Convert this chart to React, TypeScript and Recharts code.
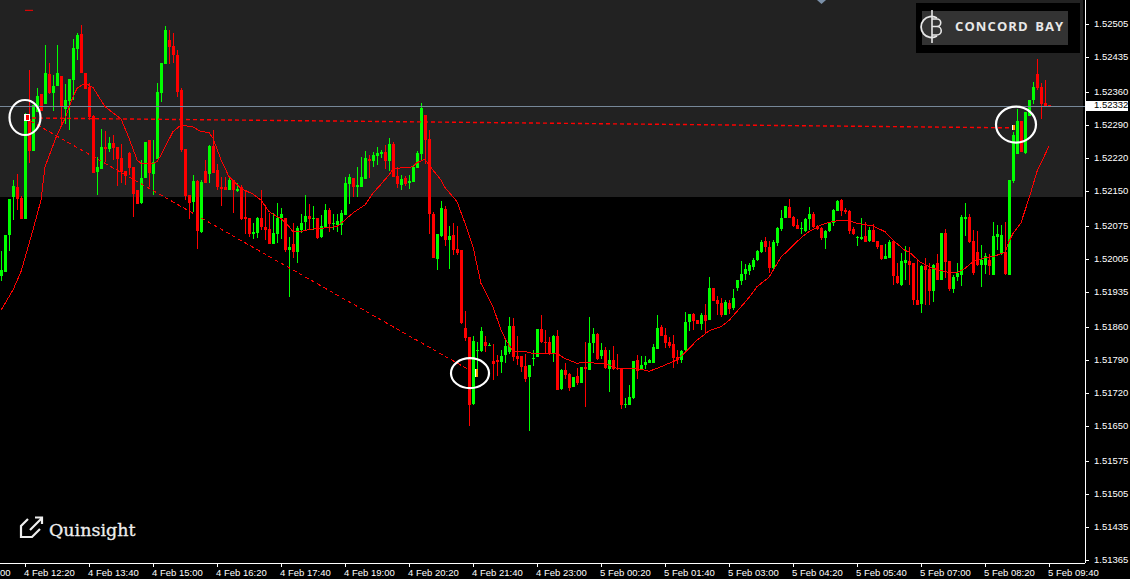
import React from 'react';
import { ComposedChart, Bar, Line, XAxis, YAxis, ReferenceArea, ReferenceLine, ReferenceDot } from 'recharts';

// all series are in points above 1.50000 (2332 = 1.52332), one line = 10 bars
const opens = [
  1969, 1978, 2055, 2136, 2158, 2135, 2091, 2302, 2235, 2318,
  2356, 2335, 2399, 2358, 2372, 2394, 2323, 2342, 2386, 2452,
  2484, 2401, 2370, 2309, 2190, 2196, 2243, 2239, 2252, 2243,
  2220, 2192, 2230, 2201, 2152, 2123, 2177, 2258, 2186, 2218,
  2358, 2420, 2471, 2458, 2439, 2364, 2239, 2141, 2126, 2171,
  2062, 2192, 2186, 2245, 2194, 2158, 2158, 2152, 2173, 2150,
  2158, 2094, 2092, 2058, 2060, 2092, 2073, 2069, 2037, 2058,
  2092, 2092, 2024, 2037, 2020, 2067, 2084, 2096, 2090, 2092,
  2052, 2071, 2109, 2079, 2077, 2077, 2098, 2164, 2177, 2158,
  2158, 2175, 2218, 2213, 2224, 2228, 2233, 2213, 2250, 2181,
  2162, 2177, 2167, 2169, 2198, 2228, 2311, 2260, 2101, 2005,
  2054, 2111, 2045, 2056, 2026, 2024, 1858, 1839, 1696, 1809,
  1809, 1828, 1820, 1788, 1790, 1786, 1801, 1807, 1862, 1798,
  1798, 1777, 1754, 1792, 1796, 1856, 1828, 1828, 1803, 1841,
  1728, 1769, 1760, 1732, 1756, 1741, 1775, 1769, 1826, 1845,
  1798, 1811, 1771, 1790, 1773, 1773, 1694, 1694, 1709, 1790,
  1769, 1779, 1784, 1784, 1813, 1860, 1843, 1828, 1824, 1796,
  1790, 1811, 1871, 1888, 1875, 1867, 1886, 1875, 1943, 1918,
  1911, 1886, 1911, 1901, 1943, 1958, 1973, 1979, 1988, 2003,
  2020, 2043, 2030, 1986, 2039, 2069, 2092, 2116, 2094, 2077,
  2069, 2064, 2090, 2101, 2075, 2071, 2050, 2064, 2081, 2107,
  2130, 2109, 2107, 2069, 2050, 2047, 2054, 2043, 2067, 2043,
  2035, 2005, 2007, 2043, 1969, 1949, 1996, 2001, 1996, 1918,
  1909, 1990, 1984, 1937, 1996, 1960, 2060, 2001, 1941, 1966,
  1971, 2090, 2094, 2043, 2020, 1992, 1992, 2003, 1971, 2052,
  2017, 2020, 1971, 2171, 2228, 2298, 2230, 2309, 2343, 2399,
  2370, 2336, 2332,
];
const closes = [
  1981, 2056, 2133, 2160, 2132, 2091, 2299, 2235, 2332, 2352,
  2320, 2401, 2359, 2373, 2401, 2328, 2343, 2388, 2454, 2482,
  2401, 2367, 2307, 2188, 2201, 2243, 2239, 2252, 2242, 2218,
  2190, 2181, 2199, 2144, 2122, 2177, 2254, 2188, 2211, 2360,
  2422, 2492, 2456, 2439, 2360, 2237, 2139, 2124, 2171, 2064,
  2169, 2167, 2245, 2188, 2158, 2154, 2152, 2173, 2152, 2154,
  2090, 2090, 2058, 2062, 2092, 2073, 2067, 2037, 2060, 2092,
  2101, 2024, 2030, 2020, 2071, 2081, 2096, 2090, 2092, 2050,
  2075, 2109, 2079, 2081, 2086, 2103, 2167, 2179, 2158, 2162,
  2179, 2220, 2213, 2226, 2230, 2233, 2213, 2250, 2179, 2164,
  2175, 2164, 2171, 2201, 2230, 2326, 2258, 2101, 2007, 2058,
  2113, 2045, 2054, 2024, 2018, 1869, 1837, 1694, 1830, 1811,
  1852, 1820, 1822, 1781, 1786, 1798, 1820, 1862, 1796, 1792,
  1775, 1750, 1779, 1794, 1856, 1828, 1826, 1803, 1841, 1726,
  1769, 1758, 1730, 1754, 1741, 1775, 1771, 1826, 1845, 1792,
  1811, 1773, 1790, 1771, 1771, 1694, 1696, 1711, 1788, 1767,
  1779, 1786, 1790, 1818, 1858, 1841, 1826, 1820, 1794, 1790,
  1809, 1871, 1888, 1873, 1867, 1886, 1873, 1943, 1915, 1909,
  1886, 1913, 1898, 1922, 1960, 1973, 1984, 1992, 2003, 2022,
  2041, 2030, 1986, 2041, 2071, 2092, 2118, 2092, 2075, 2069,
  2071, 2090, 2101, 2073, 2069, 2050, 2064, 2084, 2109, 2128,
  2107, 2105, 2064, 2058, 2052, 2052, 2041, 2067, 2041, 2030,
  2005, 2011, 2041, 1969, 1954, 2001, 2003, 1992, 1918, 1907,
  1990, 1981, 1937, 1992, 1960, 2060, 1998, 1941, 1966, 1975,
  2094, 2094, 2041, 1975, 1992, 2003, 2011, 1990, 2054, 2058,
  2056, 1973, 2173, 2269, 2298, 2233, 2318, 2343, 2370, 2369,
  2335, 2330, 2330,
];
const highs = [
  2022, 2056, 2133, 2173, 2186, 2138, 2315, 2408, 2332, 2368,
  2356, 2460, 2423, 2396, 2460, 2394, 2377, 2388, 2474, 2485,
  2503, 2401, 2379, 2311, 2221, 2281, 2277, 2265, 2269, 2243,
  2250, 2192, 2233, 2201, 2152, 2216, 2254, 2258, 2258, 2380,
  2422, 2501, 2492, 2485, 2450, 2368, 2239, 2141, 2184, 2173,
  2174, 2216, 2247, 2279, 2208, 2180, 2180, 2180, 2173, 2166,
  2162, 2152, 2092, 2081, 2095, 2152, 2120, 2102, 2102, 2123,
  2113, 2092, 2052, 2081, 2075, 2101, 2141, 2122, 2118, 2092,
  2098, 2122, 2113, 2101, 2101, 2109, 2179, 2186, 2177, 2201,
  2222, 2235, 2226, 2232, 2243, 2237, 2247, 2262, 2254, 2200,
  2184, 2181, 2184, 2205, 2235, 2337, 2311, 2279, 2105, 2058,
  2128, 2118, 2075, 2081, 2075, 2024, 1894, 1839, 1841, 1828,
  1860, 1841, 1826, 1824, 1801, 1811, 1837, 1881, 1879, 1841,
  1798, 1803, 1779, 1811, 1856, 1886, 1854, 1839, 1843, 1854,
  1771, 1783, 1762, 1754, 1773, 1775, 1828, 1881, 1858, 1847,
  1826, 1818, 1811, 1820, 1803, 1773, 1709, 1737, 1788, 1801,
  1798, 1798, 1792, 1824, 1886, 1864, 1858, 1839, 1843, 1811,
  1811, 1892, 1888, 1890, 1875, 1890, 1909, 1967, 1943, 1926,
  1922, 1918, 1918, 1941, 1960, 2001, 1994, 1996, 2007, 2024,
  2045, 2052, 2043, 2045, 2073, 2109, 2118, 2133, 2096, 2090,
  2084, 2092, 2116, 2105, 2077, 2073, 2067, 2084, 2111, 2130,
  2133, 2113, 2109, 2073, 2054, 2092, 2084, 2073, 2079, 2043,
  2035, 2037, 2045, 2045, 1996, 2018, 2032, 2030, 1996, 2003,
  1992, 2007, 1996, 1994, 2015, 2060, 2069, 2001, 1971, 1996,
  2098, 2124, 2101, 2067, 2064, 2035, 2017, 2015, 2084, 2077,
  2077, 2084, 2173, 2276, 2324, 2298, 2318, 2343, 2382, 2430,
  2379, 2386, 2332,
];
const lows = [
  1959, 1978, 2023, 2088, 2109, 2091, 2091, 2210, 2235, 2318,
  2320, 2335, 2357, 2320, 2372, 2292, 2292, 2280, 2345, 2428,
  2401, 2367, 2301, 2188, 2140, 2196, 2212, 2233, 2216, 2159,
  2166, 2162, 2184, 2095, 2122, 2123, 2177, 2159, 2141, 2218,
  2339, 2420, 2420, 2421, 2350, 2231, 2130, 2090, 2106, 2027,
  2062, 2167, 2167, 2188, 2152, 2118, 2152, 2152, 2102, 2146,
  2088, 2059, 2051, 2047, 2051, 2067, 2045, 2037, 2035, 2038,
  2047, 2020, 1925, 2007, 1996, 2060, 2064, 2067, 2067, 2047,
  2050, 2071, 2062, 2067, 2062, 2056, 2098, 2122, 2137, 2137,
  2158, 2175, 2177, 2201, 2205, 2220, 2196, 2192, 2179, 2156,
  2152, 2160, 2154, 2169, 2198, 2213, 2207, 2058, 2007, 1981,
  2052, 2032, 1984, 2013, 2013, 1866, 1830, 1650, 1694, 1769,
  1807, 1807, 1820, 1747, 1756, 1762, 1784, 1803, 1788, 1779,
  1764, 1743, 1639, 1777, 1796, 1826, 1804, 1801, 1786, 1726,
  1726, 1749, 1724, 1732, 1737, 1741, 1690, 1769, 1805, 1790,
  1792, 1771, 1722, 1769, 1769, 1686, 1688, 1694, 1707, 1749,
  1769, 1771, 1784, 1784, 1813, 1841, 1815, 1815, 1773, 1781,
  1784, 1809, 1852, 1854, 1867, 1854, 1847, 1875, 1915, 1886,
  1881, 1886, 1888, 1896, 1937, 1950, 1960, 1971, 1981, 2001,
  2018, 2020, 1975, 1981, 2033, 2064, 2092, 2092, 2073, 2069,
  2058, 2062, 2067, 2071, 2067, 2045, 2026, 2062, 2075, 2107,
  2096, 2101, 2058, 2056, 2032, 2045, 2041, 2041, 2041, 2026,
  2003, 2005, 2007, 1950, 1952, 1947, 1960, 1950, 1907, 1907,
  1890, 1907, 1907, 1913, 1960, 1960, 1964, 1937, 1932, 1958,
  1947, 2054, 2039, 1971, 1990, 1946, 1973, 1970, 1971, 2024,
  2013, 1971, 1971, 2167, 2228, 2233, 2228, 2308, 2335, 2363,
  2303, 2330, 2330,
];

// moving average, read at the bars listed in maBars
const maBars = [
  0, 3, 5, 8, 10, 11, 14, 16, 18, 19, 21, 23, 26, 30, 32, 34, 35, 38, 39, 40,
  43, 45, 48, 50, 52, 53, 55, 57, 60, 63, 65, 67, 69, 70, 72, 73, 75, 77, 80, 84,
  86, 88, 91, 93, 95, 97, 98, 100, 103, 104, 106, 108, 110, 111, 114, 116, 118, 120, 123, 125,
  126, 128, 131, 133, 139, 141, 144, 146, 149, 151, 154, 158, 160, 162, 164, 167, 169, 171, 174, 177,
  180, 182, 185, 187, 189, 192, 195, 197, 200, 202, 205, 207, 209, 212, 214, 218, 221, 223, 226, 227,
  230, 233, 237, 239, 241, 243, 246, 248, 251, 252, 253, 255, 257, 259, 262,
];
const maValues = [
  1896, 1939, 1978, 2067, 2130, 2201, 2269, 2304, 2350, 2368, 2379, 2370, 2329, 2303, 2262, 2216, 2208, 2208, 2212, 2226,
  2276, 2290, 2286, 2276, 2274, 2262, 2216, 2180, 2155, 2143, 2130, 2106, 2095, 2091, 2074, 2063, 2063, 2068, 2070, 2074,
  2088, 2103, 2120, 2145, 2164, 2184, 2196, 2199, 2201, 2210, 2217, 2194, 2173, 2157, 2127, 2081, 2031, 1953, 1903, 1854,
  1836, 1808, 1808, 1804, 1804, 1793, 1783, 1785, 1783, 1783, 1772, 1772, 1770, 1766, 1772, 1783, 1790, 1806, 1832, 1852,
  1861, 1874, 1903, 1923, 1946, 1966, 2009, 2025, 2050, 2063, 2077, 2083, 2086, 2086, 2081, 2075, 2063, 2045, 2023, 2020,
  1997, 1985, 1976, 1976, 1985, 1999, 2008, 2010, 2019, 2042, 2059, 2082, 2134, 2191, 2245,
];

// the two dashed trend lines
const fallBars = [6, 117];
const fallValues = [2305, 1769];
const flatBars = [6, 253];
const flatValues = [2305, 2284];

const yTicks = [2505, 2435, 2360, 2332, 2290, 2220, 2150, 2075, 2005, 1935, 1860, 1790, 1720, 1650, 1575, 1505, 1435, 1365];
const bidPrice = 2332;
const sessionTop = 2137;

const xTickBars = [0, 6, 22, 38, 54, 70, 86, 102, 118, 134, 150, 166, 182, 198, 214, 230, 246, 262];
const xTickLabels = [
  '00', '4 Feb 12:20', '4 Feb 13:40', '4 Feb 15:00', '4 Feb 16:20', '4 Feb 17:40', '4 Feb 19:00', '4 Feb 20:20', '4 Feb 21:40',
  '4 Feb 23:00', '5 Feb 00:20', '5 Feb 01:40', '5 Feb 03:00', '5 Feb 04:20', '5 Feb 05:40', '5 Feb 07:00', '5 Feb 08:20', '5 Feb 09:40',
];

const price = (p: number) => 1.5 + p / 100000;

const SLOTS = 271;
const rows = Array.from({ length: SLOTS }, (_, bar) => {
  const row: any = { bar };
  if (bar < opens.length) {
    row.open = price(opens[bar]);
    row.close = price(closes[bar]);
    row.high = price(highs[bar]);
    row.low = price(lows[bar]);
  }
  return row;
});
maBars.forEach((b, i) => { rows[b].ma = price(maValues[i]); });
fallBars.forEach((b, i) => { rows[b].fall = price(fallValues[i]); });
flatBars.forEach((b, i) => { rows[b].flat = price(flatValues[i]); });

const font = '"Liberation Sans", sans-serif';

function Candle(props: any) {
  const { x, y, width, height, payload } = props;
  if (payload.open === undefined) return null;
  const top = Math.min(y, y + height);
  const h = Math.abs(height);
  const range = payload.high - payload.low || 1;
  const up = payload.close >= payload.open;
  const color = up ? '#00ff00' : '#ff0000';
  const bodyTop = top + ((payload.high - Math.max(payload.open, payload.close)) / range) * h;
  const bodyBot = top + ((payload.high - Math.min(payload.open, payload.close)) / range) * h;
  const cx = Math.round(x + width / 2);
  const by = Math.round(bodyTop);
  return (
    <g shapeRendering="crispEdges">
      <rect x={cx} y={Math.round(top)} width={1} height={Math.max(1, Math.round(h))} fill={color} />
      <rect x={cx - 1} y={by} width={3} height={Math.max(1, Math.round(bodyBot) - by)} fill={color} />
    </g>
  );
}

function PriceTick(props: any) {
  const { x, y, payload } = props;
  const v = Number(payload.value);
  const isBid = Math.abs(v - price(bidPrice)) < 0.000001;
  const row = Math.round(y);
  return (
    <g shapeRendering="crispEdges">
      {isBid ? (
        <rect x={x + 1} y={row - 4} width={42} height={10} fill="#ffffff" />
      ) : (
        <line x1={x} x2={x + 4} y1={row + 0.5} y2={row + 0.5} stroke="#ffffff" />
      )}
      <text x={x + 9} y={row + 3} fontSize={9.5} fontFamily={font} fill={isBid ? '#000000' : '#ffffff'}>
        {v.toFixed(5)}
      </text>
    </g>
  );
}

function TimeTick(props: any) {
  const { x, y, payload } = props;
  const label = xTickLabels[xTickBars.indexOf(payload.value)];
  if (label === '00') {
    return <text x={1} y={y + 13} fontSize={9.5} fontFamily={font} fill="#ffffff">{label}</text>;
  }
  return (
    <g>
      <line x1={x + 0.5} x2={x + 0.5} y1={y} y2={y + 4} stroke="#ffffff" shapeRendering="crispEdges" />
      <text x={x - 1} y={y + 13} fontSize={9.5} fontFamily={font} fill="#ffffff">{label}</text>
    </g>
  );
}

const BidLine = (p: any) => (
  <line x1={p.x1} x2={p.x2} y1={Math.floor(p.y1) + 1.5} y2={Math.floor(p.y1) + 1.5} stroke="#778899" shapeRendering="crispEdges" />
);

const ring = (rx: number, ry: number, dx: number) => (p: any) => (
  <ellipse cx={p.cx + dx} cy={p.cy} rx={rx} ry={ry} fill="none" stroke="#ffffff" strokeWidth={2.2} />
);

const entryMark = (p: any) => (
  <g shapeRendering="crispEdges">
    <rect x={p.cx - 1} y={p.cy - 3} width={6} height={7} fill="#ffffff" />
    <rect x={p.cx + 1} y={p.cy - 2} width={3} height={5} fill="#ff0000" />
  </g>
);

const fillMark = (dx: number, tall: number) => (p: any) => (
  <g shapeRendering="crispEdges">
    <rect x={p.cx + dx} y={p.cy - tall / 2} width={1} height={tall} fill="#ffffff" />
    <rect x={p.cx + dx + 1} y={p.cy - tall / 2} width={2} height={tall} fill="#ffa500" />
  </g>
);

const topArrow = (p: any) => <polygon points={`${p.cx - 4},0 ${p.cx + 5},0 ${p.cx + 0.5},4`} fill="#7b90a8" />;

export default function App() {
  return (
    <div style={{ position: 'fixed', left: 0, top: 0, width: 1130, height: 579, background: '#000000', overflow: 'hidden' }}>
      <div style={{ position: 'absolute', left: -1, top: 0 }}>
        <ComposedChart width={1131} height={579} data={rows} margin={{ top: 0, right: 0, bottom: 0, left: 0 }} barCategoryGap={0}>
          <XAxis
            dataKey="bar"
            type="category"
            height={16}
            padding={{ left: 0, right: 2 }}
            ticks={xTickBars}
            interval={0}
            tick={<TimeTick />}
            tickLine={false}
            tickSize={0}
            tickMargin={0}
            axisLine={{ stroke: '#ffffff', shapeRendering: 'crispEdges' }}
          />
          <YAxis
            orientation="right"
            width={45}
            domain={[price(1358), price(2556)]}
            allowDataOverflow
            ticks={yTicks.map(price)}
            interval={0}
            tick={<PriceTick />}
            tickLine={false}
            tickSize={0}
            tickMargin={0}
            axisLine={{ stroke: '#ffffff', shapeRendering: 'crispEdges' }}
          />
          <ReferenceArea y1={price(sessionTop)} y2={price(2556)} fill="#222222" fillOpacity={1} stroke="none" />
          <ReferenceLine y={price(bidPrice)} shape={BidLine} />
          <Line dataKey="fall" connectNulls stroke="#ff0000" strokeDasharray="4 3" shapeRendering="crispEdges" dot={false} activeDot={false} isAnimationActive={false} />
          <Line dataKey="flat" connectNulls stroke="#ff0000" strokeWidth={1.4} strokeDasharray="4 3" dot={false} activeDot={false} isAnimationActive={false} />
          <Bar dataKey={(d: any) => (d.open === undefined ? null : [d.low, d.high])} shape={<Candle />} isAnimationActive={false} />
          <Line dataKey="ma" connectNulls stroke="#ff0000" strokeWidth={1} shapeRendering="crispEdges" dot={false} activeDot={false} isAnimationActive={false} />
          <ReferenceDot x={6} y={price(2306)} r={1} shape={ring(15.5, 17.5, 0)} />
          <ReferenceDot x={117} y={price(1762)} r={1} shape={ring(19, 15, 1)} />
          <ReferenceDot x={254} y={price(2291)} r={1} shape={ring(20, 18, -1)} />
          <ReferenceDot x={6} y={price(2306)} r={1} shape={entryMark} />
          <ReferenceDot x={118} y={price(1762)} r={1} shape={fillMark(2, 8)} />
          <ReferenceDot x={253} y={price(2284)} r={1} shape={fillMark(-1, 5)} />
          <ReferenceDot x={205} y={price(2556)} r={1} shape={topArrow} />
          <ReferenceLine segment={[{ x: 6, y: price(2534) }, { x: 8, y: price(2534) }]} stroke="#ff0000" />
        </ComposedChart>
      </div>

      <div style={{ position: 'absolute', left: 916, top: 3, width: 164, height: 50, background: '#000000' }}>
        <div style={{ position: 'absolute', left: 6, top: 8, width: 146, height: 34, background: '#333333' }} />
        <svg style={{ position: 'absolute', left: 0, top: 0 }} width={40} height={50}>
          <path d="M21 15 A 10.5 10.5 0 1 0 21 33" fill="none" stroke="#e6e6e6" strokeWidth={1.8} />
          <path d="M16 7 V40 M16 16 H21 A 3.5 3.5 0 0 1 21 23.5 H16 M21 23.5 A 4.2 4.2 0 0 1 21 32 H16" fill="none" stroke="#e6e6e6" strokeWidth={1.6} />
        </svg>
        <div style={{ position: 'absolute', left: 39, top: 14, color: '#e8e8e8', fontFamily: '"Open Sans", sans-serif', fontWeight: 700, fontSize: 13, letterSpacing: 1.1, wordSpacing: 2, whiteSpace: 'nowrap' }}>
          CONCORD BAY
        </div>
      </div>

      <svg style={{ position: 'absolute', left: 19, top: 515 }} width={26} height={26}>
        <path d="M9 4 L2 11 V22 H13 L21 14" fill="none" stroke="#eeeeee" strokeWidth={2.2} />
        <path d="M11 15 L23 3 M16 2.5 H23 V9" fill="none" stroke="#eeeeee" strokeWidth={2.2} />
      </svg>
      <div style={{ position: 'absolute', left: 49, top: 520, color: '#eeeeee', fontFamily: '"DejaVu Serif", serif', fontSize: 17.5, WebkitTextStroke: '0.3px #eeeeee', whiteSpace: 'nowrap' }}>
        Quinsight
      </div>
    </div>
  );
}
